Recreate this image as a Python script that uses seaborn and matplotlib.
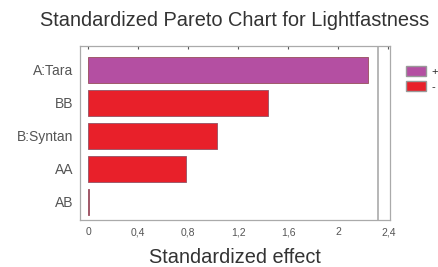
import pandas as pd
import matplotlib.pyplot as plt
import seaborn as sns
from matplotlib.patches import Patch

# Pareto chart data
factors = ['A:Tara', 'BB', 'B:Syntan', 'AA', 'AB']
effects = [2.24, 1.44, 1.03, 0.78, 0.01]
signs = ['+', '-', '-', '-', '-']
threshold = 2.32
xticks = [0, 0.4, 0.8, 1.2, 1.6, 2.0, 2.4]
xtick_labels = ['0', '0,4', '0,8', '1,2', '1,6', '2', '2,4']

df = pd.DataFrame({'factor': factors, 'effect': effects, 'sign': signs})

sns.set_style('white')
plt.rcParams['font.family'] = ['Liberation Sans', 'DejaVu Sans']

fig = plt.figure(figsize=(4.38, 2.67), dpi=100)
ax = fig.add_axes([0.183, 0.176, 0.708, 0.652])

palette = {'+': '#b44fa2', '-': '#e8202a'}
sns.barplot(data=df, x='effect', y='factor', hue='sign', palette=palette,
            dodge=False, width=0.8, saturation=1, edgecolor='#a05a6a',
            linewidth=0.7, legend=False, ax=ax)

# significance line
ax.axvline(threshold, color='#aaaaaa', linewidth=1.2)

ax.set_xlim(-0.064, 2.416)
ax.set_ylim(4.55, -0.73)
ax.set_xticks(xticks)
ax.set_xticklabels(xtick_labels)
ax.tick_params(axis='x', labelsize=7.5, colors='#555555', direction='in',
               length=2, top=True, pad=11)
for lab in ax.get_xticklabels():
    lab.set_va('baseline')
ax.tick_params(axis='y', labelsize=10, colors='#555555', length=0, pad=5)
ax.set_ylabel('')
ax.set_xlabel('Standardized effect', fontsize=14.4, color='#333333', labelpad=8)
for s in ax.spines.values():
    s.set_color('#aaaaaa')
    s.set_linewidth(0.9)

fig.text(0.535, 0.925, 'Standardized Pareto Chart for Lightfastness',
         ha='center', va='center', fontsize=14.4, color='#333333')

# legend
handles = [Patch(facecolor=palette['+'], edgecolor='#999999', label='+'),
           Patch(facecolor=palette['-'], edgecolor='#999999', label='-')]
fig.legend(handles=handles, loc='upper left', bbox_to_anchor=(0.915, 0.775),
           frameon=False, fontsize=8, handlelength=1.8, handleheight=1.1,
           handletextpad=0.5, labelspacing=0.35, borderpad=0)

fig.savefig('out.png', dpi=100)
